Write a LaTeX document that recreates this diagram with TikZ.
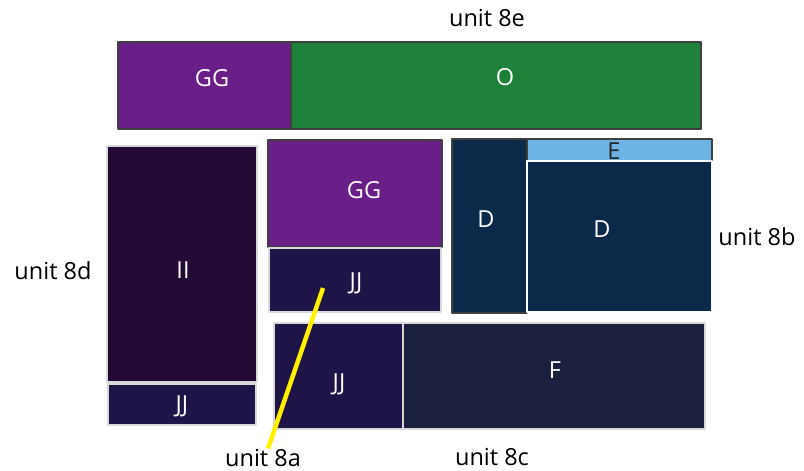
\documentclass[tikz,border=0pt]{standalone}
\usepackage{fontspec}
\setmainfont{Open Sans}
\definecolor{cGG}{HTML}{6A1E87}
\definecolor{cO}{HTML}{1F8139}
\definecolor{cII}{HTML}{230A34}
\definecolor{cJJ}{HTML}{1E1447}
\definecolor{cD}{HTML}{0B2A4A}
\definecolor{cE}{HTML}{6CB3E6}
\definecolor{cF}{HTML}{1B203E}
\definecolor{cYel}{HTML}{FFF000}
\tikzset{
  darkedge/.style={draw=black!75, line width=1.1pt},
  lightedge/.style={draw=black!15, line width=1.1pt},
  boxtxt/.style={text=white, inner sep=0pt, font=\fontsize{23.5}{28}\selectfont},
  unitlbl/.style={text=black, inner sep=0pt, anchor=base, font=\fontsize{23.5}{28}\selectfont}
}
\begin{document}
\begin{tikzpicture}[x=1pt, y=-1pt, line join=round]
  \useasboundingbox (0,0) rectangle (804,471);
  % top bar
  \draw[darkedge, fill=cGG] (118,42) rectangle (291,129);
  \draw[darkedge, fill=cO] (291,42) rectangle (701,129);
  \node[boxtxt] (ggtop) at (212,78) {GG};
  \node[boxtxt] (o) at (505,77) {O};
  % left column
  \draw[lightedge, fill=cII] (107,146) rectangle (257,382);
  \draw[lightedge, fill=cJJ] (108,384) rectangle (256,425);
  \node[boxtxt] (ii) at (183,270) {II};
  \node[boxtxt] (jjleft) at (182,406) {JJ};
  % middle column
  \draw[darkedge, fill=cGG] (268,140) rectangle (442,247);
  \draw[lightedge, fill=cJJ] (269,248) rectangle (441,312);
  \node[boxtxt] (ggmid) at (364,190) {GG};
  \node[boxtxt] (jjmid) at (356,283) {JJ};
  % right block
  \draw[darkedge, fill=cD] (452,139) rectangle (527,313);
  \draw[darkedge, fill=cE] (527,139) rectangle (712,161);
  \draw[draw=white, line width=1.1pt, fill=cD] (527,161) rectangle (712,312);
  \node[boxtxt] (dleft) at (486,219) {D};
  \node[boxtxt, text=black!85] (e) at (614,151) {E};
  \node[boxtxt] (dright) at (602,229) {D};
  % bottom row
  \draw[lightedge, fill=cJJ] (274,323) rectangle (403,429);
  \draw[lightedge, fill=cF] (403,323) rectangle (705,429);
  \node[boxtxt] (jjbot) at (339,384) {JJ};
  \node[boxtxt] (f) at (555,370) {F};
  % unit labels
  \node[unitlbl] (u8e) at (487,27) {unit 8e};
  \node[unitlbl] (u8d) at (53,279) {unit 8d};
  \node[unitlbl] (u8b) at (757,245) {unit 8b};
  \node[unitlbl] (u8a) at (263,466) {unit 8a};
  \node[unitlbl] (u8c) at (492,465) {unit 8c};
  % pointer
  \coordinate (tip) at (323,288);
  \draw[cYel, line width=4.5pt] (tip) -- ([xshift=5pt]u8a.north);
\end{tikzpicture}
\end{document}
